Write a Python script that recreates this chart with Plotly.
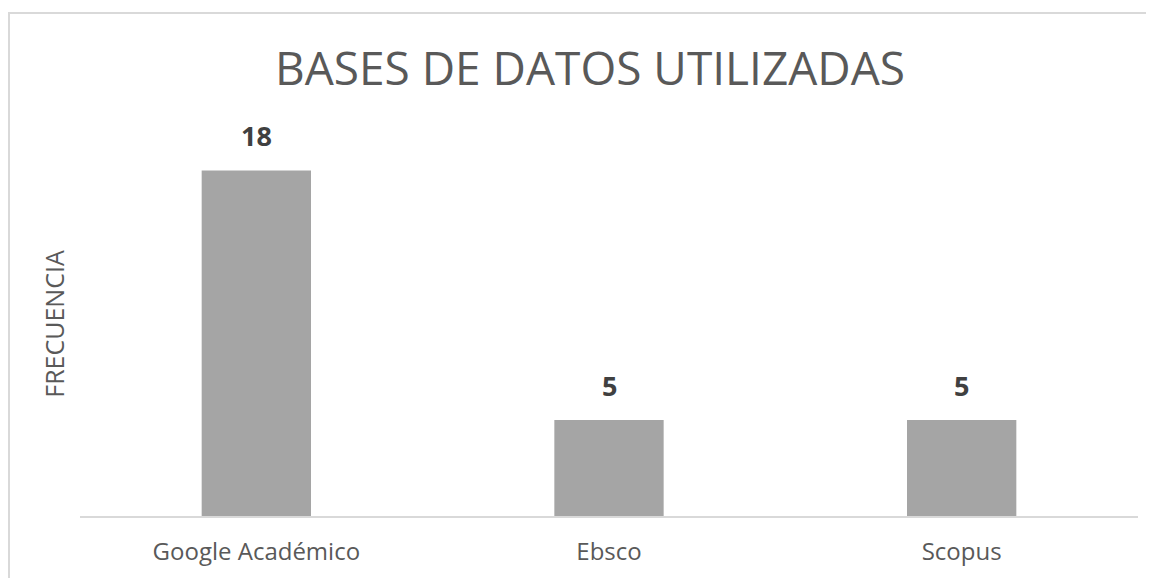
import plotly.graph_objects as go

categories = ["Google Académico", "Ebsco", "Scopus"]
values = [18, 5, 5]

# page is drawn with an 8px body margin, so the figure is sized/offset accordingly
OFF = 8
W, H = 1154 - OFF, 578 - OFF
L = 80 - OFF
R = W - (1138 - OFF)
T = 132 - OFF
B = H - (516 - OFF)
pw, ph = W - L - R, H - T - B

fig = go.Figure(go.Bar(
    x=categories, y=values,
    marker=dict(color="#A5A5A5", line=dict(width=0)),
    width=0.31,
    hoverinfo="x+y",
))

for c, v in zip(categories, values):
    fig.add_annotation(x=c, y=v, text=f"<b>{v}</b>", showarrow=False,
                       yanchor="bottom", yshift=14,
                       font=dict(family="Open Sans", size=27, color="#404040"))

def px_x(p):
    return (p - OFF - L) / pw

def px_y(p):
    return (H + OFF - B - p) / ph

fig.add_shape(type="rect", xref="paper", yref="paper",
              x0=px_x(9), x1=px_x(1250), y0=px_y(650), y1=px_y(13),
              line=dict(color="#D9D9D9", width=2), fillcolor="rgba(0,0,0,0)", layer="below")

fig.update_layout(
    width=W, height=H,
    margin=dict(l=L, r=R, t=T, b=B),
    paper_bgcolor="white", plot_bgcolor="white",
    title=dict(text="BASES DE DATOS UTILIZADAS", x=(590 - OFF) / W, xanchor="center",
               y=1 - (69 - OFF) / H, yanchor="middle",
               font=dict(family="Open Sans", size=46, color="#595959")),
    xaxis=dict(showline=True, linecolor="#D9D9D9", linewidth=2, ticks="",
               tickfont=dict(family="Open Sans", size=24, color="#595959"),
               ticklabelstandoff=13,
               showgrid=False, zeroline=False),
    yaxis=dict(range=[0, 20], showticklabels=False, showgrid=False, zeroline=False,
               title=dict(text="FRECUENCIA", standoff=7,
                          font=dict(family="Open Sans", size=25, color="#595959"))),
    showlegend=False,
    font=dict(family="Open Sans"),
)

fig.write_html("out.html")
